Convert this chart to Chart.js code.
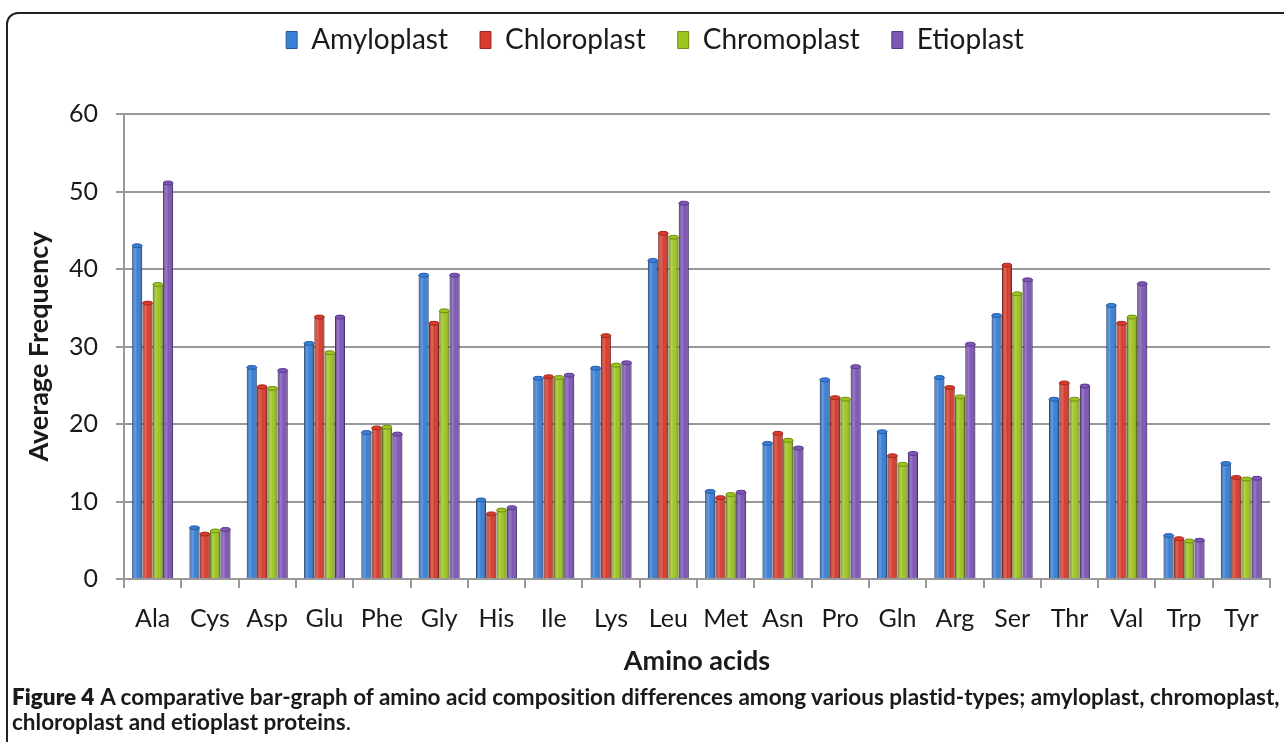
<!DOCTYPE html>
<html>
<head>
<meta charset="utf-8">
<script src="https://cdn.jsdelivr.net/npm/chart.js@4.4.1/dist/chart.umd.min.js"></script>
<style>
  html, body { margin: 0; padding: 0; background: #fff; }
  body { width: 1284px; height: 742px; position: relative; overflow: hidden; font-family: Lato, "Open Sans", sans-serif; }
  #frame { position: absolute; left: 6px; top: 12px; width: 1300px; height: 780px; border: 2px solid #222; border-top-left-radius: 12px; box-sizing: border-box; }
  #wrap { position: absolute; left: 0; top: -10px; width: 1284px; height: 694px; }
  #caption { position: absolute; left: 12px; top: 684px; font-family: Lato, sans-serif; font-size: 21px; line-height: 25px; color: #1a1a1a; white-space: nowrap; }
  #caption b { font-weight: 800; }
  #caption .t { font-weight: 700; }
</style>
</head>
<body>
<div id="frame"></div>
<div id="wrap"><canvas id="c" width="1284" height="694"></canvas></div>
<div id="caption"><span id="l1"><b>Figure 4</b> <span class="t">A comparative bar-graph of amino acid composition differences among various plastid-types; amyloplast, chromoplast,</span></span><br><span class="t">chloroplast and etioplast proteins</span>.</div>
<script>
const categories = ["Ala","Cys","Asp","Glu","Phe","Gly","His","Ile","Lys","Leu","Met","Asn","Pro","Gln","Arg","Ser","Thr","Val","Trp","Tyr"];
const amyloplast  = [43.0, 6.6, 27.3, 30.4, 18.9, 39.2, 10.2, 25.9, 27.2, 41.1, 11.3, 17.5, 25.7, 19.0, 26.0, 34.0, 23.2, 35.3, 5.6, 14.9];
const chloroplast = [35.6, 5.8, 24.8, 33.8, 19.5, 33.0, 8.4, 26.1, 31.4, 44.6, 10.5, 18.8, 23.4, 15.9, 24.7, 40.5, 25.3, 33.0, 5.2, 13.1];
const chromoplast = [38.0, 6.2, 24.6, 29.2, 19.6, 34.6, 8.9, 26.0, 27.6, 44.1, 10.9, 17.9, 23.2, 14.8, 23.5, 36.8, 23.2, 33.8, 4.9, 12.9];
const etioplast   = [51.1, 6.4, 26.9, 33.8, 18.7, 39.2, 9.2, 26.3, 27.9, 48.5, 11.2, 16.9, 27.4, 16.2, 30.3, 38.6, 24.9, 38.1, 5.0, 13.0];
const seriesNames = ["Amyloplast","Chloroplast","Chromoplast","Etioplast"];
const yTicks = [0, 10, 20, 30, 40, 50, 60];

const colors = ["#3a7fd5", "#d63c2e", "#9dc420", "#7e56b5"];
const borders = ["#2459a6", "#a5281e", "#6f8f12", "#573a8a"];

// fit the first caption line to the reference width
(function () {
  const cap = document.getElementById('caption');
  const l1 = document.getElementById('l1');
  const target = 1268;
  const w = l1.getBoundingClientRect().width;
  const fs = 21 * target / w;
  cap.style.fontSize = Math.min(fs, 23) + 'px';
  const w2 = l1.getBoundingClientRect().width;
  if (w2 < target) {
    const n = l1.textContent.length;
    cap.style.letterSpacing = ((target - w2) / n) + 'px';
  }
})();

// cylinder-like shading drawn over each bar, using the library's bar element geometry
const shade = {
  id: 'shade',
  afterDatasetsDraw(chart) {
    const ctx = chart.ctx;
    chart.data.datasets.forEach((ds, di) => {
      const meta = chart.getDatasetMeta(di);
      meta.data.forEach(bar => {
        const p = bar.getProps(['x','y','base','width'], true);
        const l = p.x - p.width / 2, r = p.x + p.width / 2;
        const g = ctx.createLinearGradient(l, 0, r, 0);
        g.addColorStop(0, 'rgba(0,0,0,0.28)');
        g.addColorStop(0.3, 'rgba(255,255,255,0.22)');
        g.addColorStop(0.55, 'rgba(255,255,255,0.0)');
        g.addColorStop(1, 'rgba(0,0,0,0.30)');
        ctx.save();
        ctx.fillStyle = g;
        ctx.fillRect(l, p.y, p.width, p.base - p.y);
        ctx.beginPath();
        ctx.ellipse(p.x, p.y, p.width / 2, 2, 0, 0, Math.PI * 2);
        ctx.fillStyle = colors[di];
        ctx.fill();
        ctx.strokeStyle = borders[di];
        ctx.lineWidth = 1;
        ctx.stroke();
        ctx.restore();
      });
    });
  }
};

// fixed legend block height so the plot starts where the reference's does; nudge legend right
const legendSpace = {
  id: 'legendSpace',
  beforeInit(chart) {
    const lg = chart.legend;
    const origFit = lg.fit;
    lg.fit = function () { origFit.call(lg); this.height = 120; };
    const origDraw = lg.draw;
    lg.draw = function () {
      chart.ctx.save();
      chart.ctx.translate(20, 0);
      origDraw.call(lg);
      chart.ctx.restore();
    };
  }
};

const data = [amyloplast, chloroplast, chromoplast, etioplast];
new Chart(document.getElementById('c'), {
  type: 'bar',
  data: {
    labels: categories,
    datasets: seriesNames.map((n, i) => ({
      label: n,
      data: data[i],
      backgroundColor: colors[i],
      borderColor: borders[i],
      borderWidth: 1,
      categoryPercentage: 0.72,
      barPercentage: 0.97
    }))
  },
  options: {
    responsive: false,
    animation: false,
    layout: { padding: { top: 4, left: 0, right: 14, bottom: 0 } },
    plugins: {
      legend: {
        position: 'top',
        labels: {
          boxWidth: 11, boxHeight: 17, padding: 32,
          color: '#1a1a1a',
          font: { family: 'Lato', size: 28 }
        }
      },
      tooltip: { enabled: false }
    },
    scales: {
      x: {
        afterFit(scale) { scale.height = 105; },
        grid: { display: true, drawOnChartArea: false, drawTicks: true, tickLength: 9, color: '#999', lineWidth: 2, offset: true },
        border: { display: true, color: '#999', width: 2 },
        ticks: { color: '#1a1a1a', font: { family: 'Lato', size: 25 }, padding: 16 },
        title: { display: true, text: 'Amino acids', color: '#1a1a1a', font: { family: 'Lato', size: 27, weight: 'bold' }, padding: { top: 0, bottom: 7 } }
      },
      y: {
        min: 0, max: 60,
        afterFit(scale) { scale.width = 124; },
        afterBuildTicks(axis) { axis.ticks = yTicks.map(v => ({ value: v })); },
        grid: { color: '#999', lineWidth: 2, tickLength: 8 },
        border: { display: true, color: '#999', width: 2 },
        ticks: { color: '#1a1a1a', font: { family: 'Lato', size: 25 }, padding: 18 },
        title: { display: true, text: 'Average Frequency', color: '#1a1a1a', font: { family: 'Lato', size: 27, weight: 'bold' }, padding: { top: 23, bottom: 0 } }
      }
    }
  },
  plugins: [shade, legendSpace]
});
</script>
</body>
</html>
